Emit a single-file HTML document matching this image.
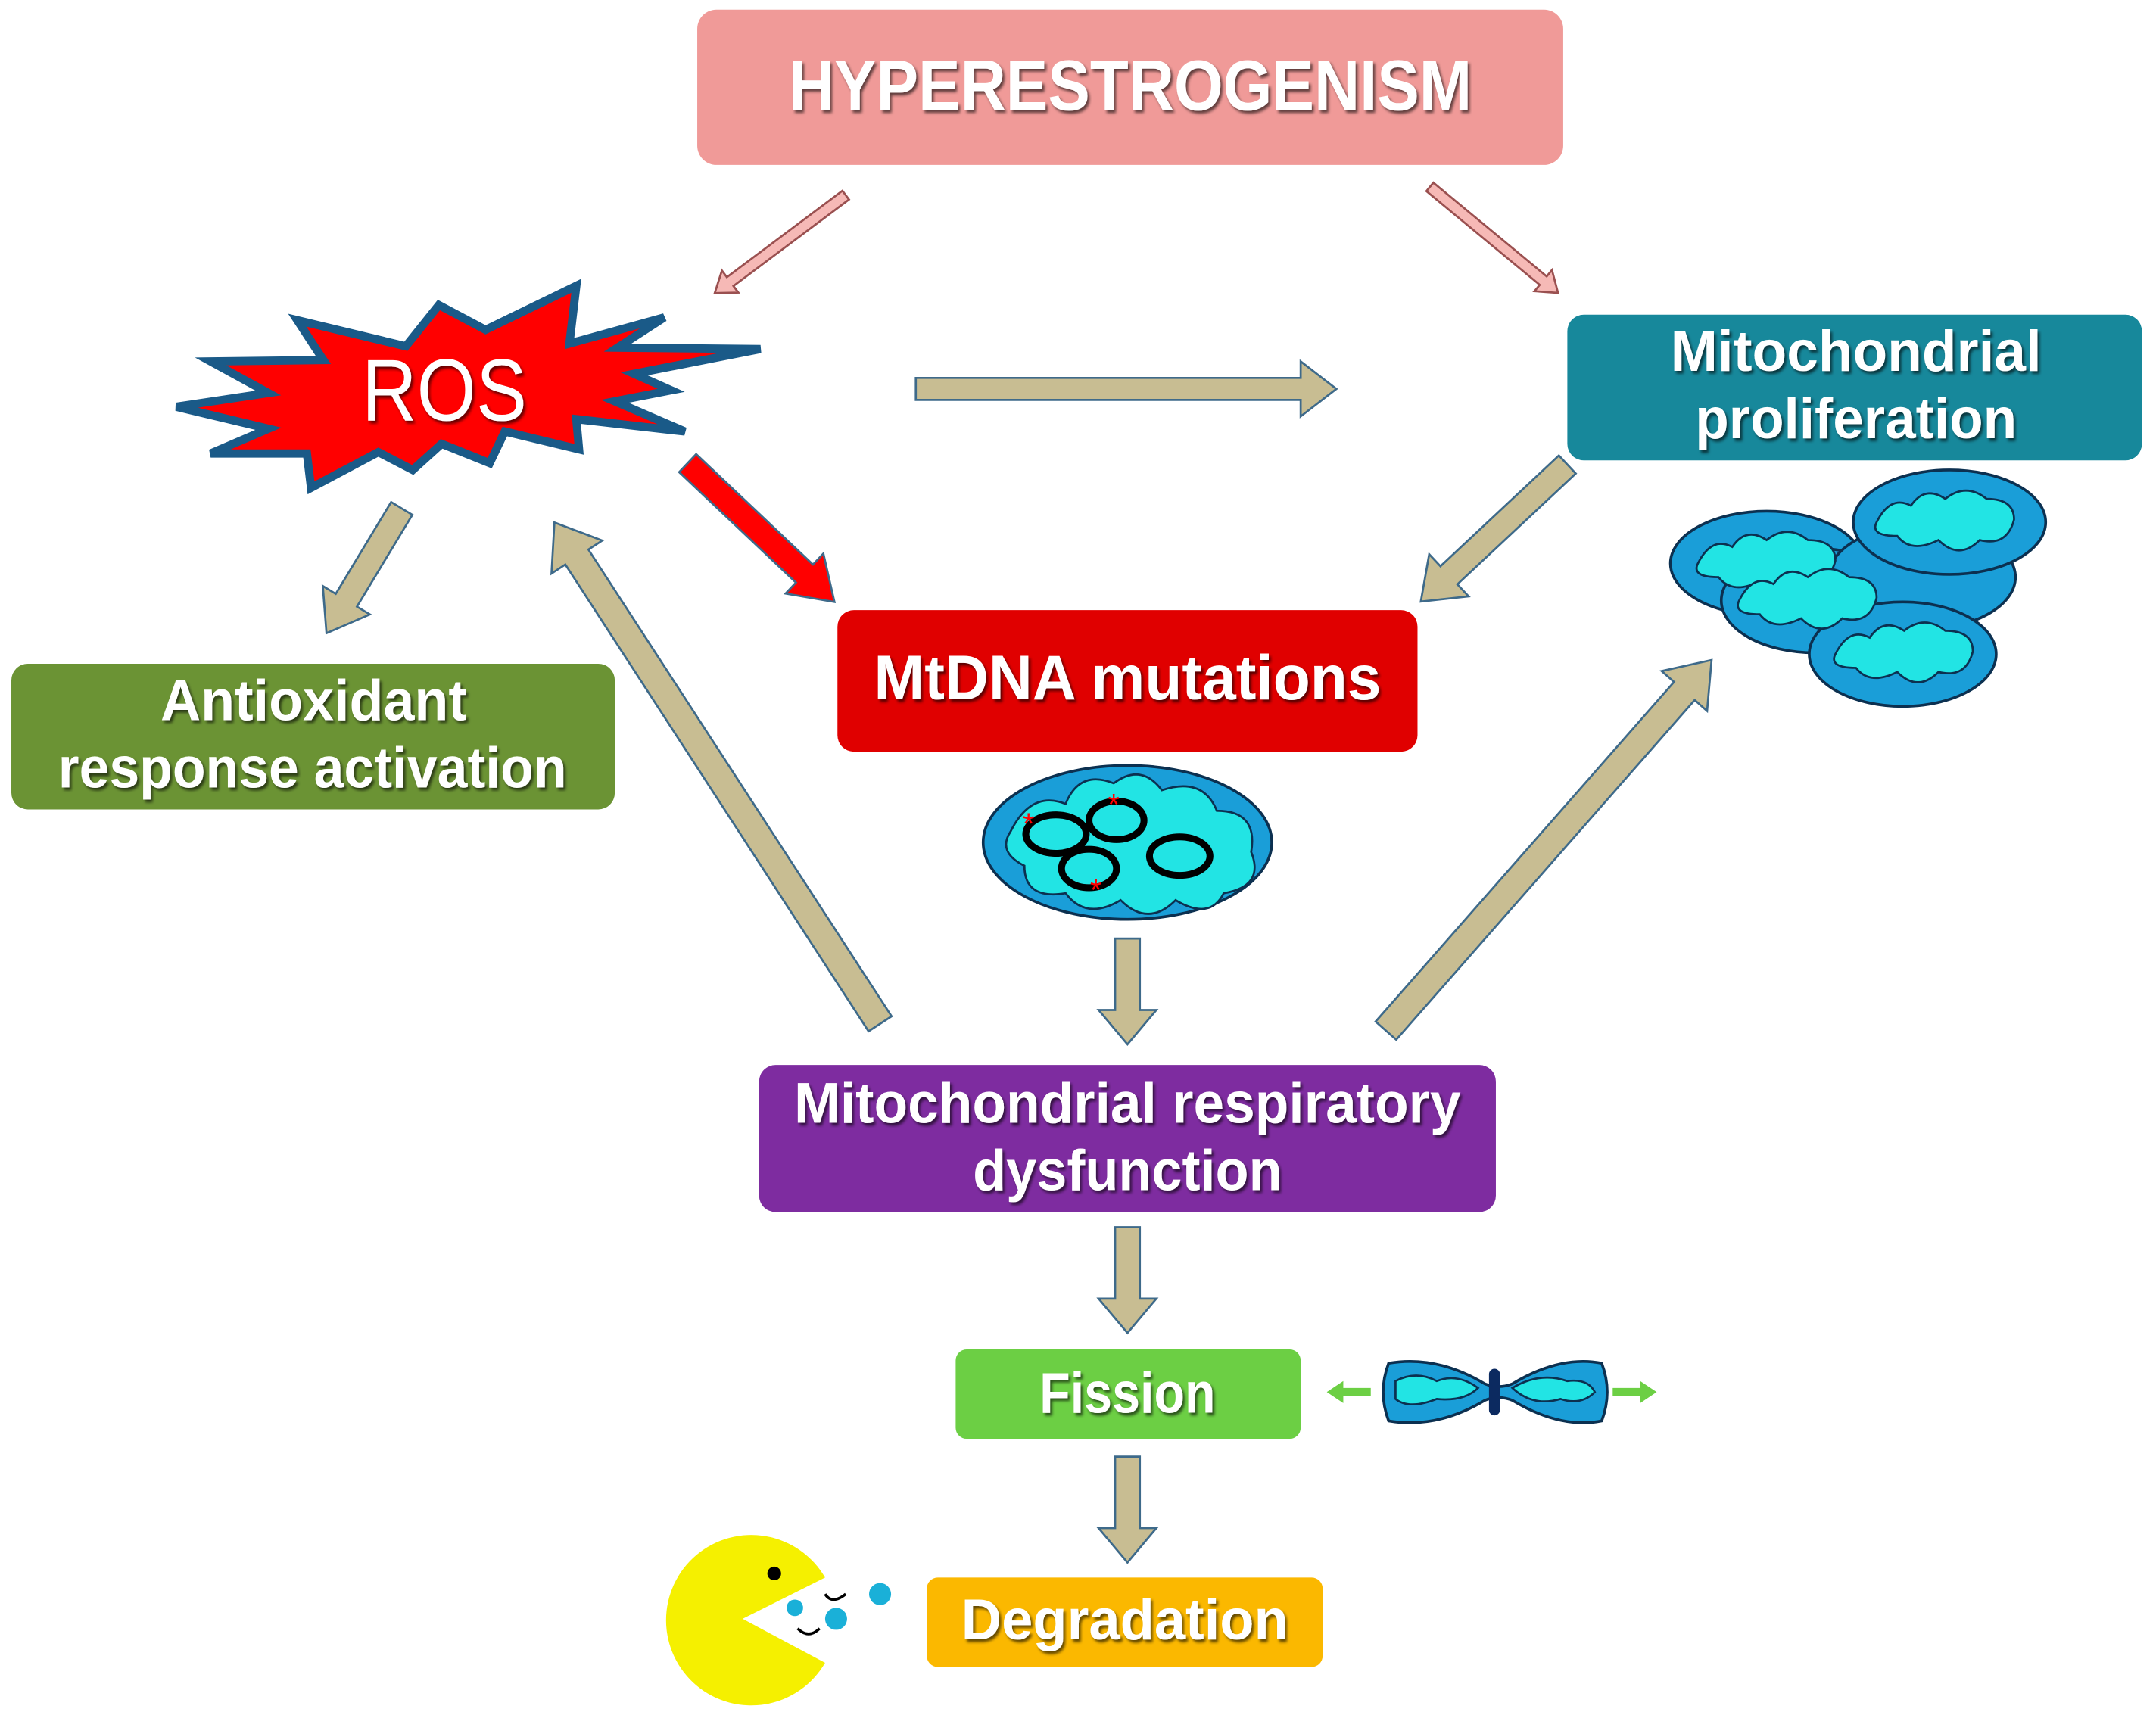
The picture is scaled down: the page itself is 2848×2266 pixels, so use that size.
<!DOCTYPE html>
<html><head><meta charset="utf-8"><style>
html,body{margin:0;padding:0;background:#fff;}
svg{display:block;}
.t{font-family:"Liberation Sans",sans-serif;font-weight:bold;fill:#fff;text-anchor:middle;}
</style></head><body>
<svg width="2848" height="2266" viewBox="0 0 1568 1248" xmlns="http://www.w3.org/2000/svg">
<defs>
<filter id="sh" x="-10%" y="-10%" width="120%" height="130%"><feDropShadow dx="1.5" dy="2" stdDeviation="1" flood-color="#000" flood-opacity="0.6"/></filter>
</defs>
<rect width="1568" height="1248" fill="#fff"/>

<!-- boxes -->
<rect x="507" y="7" width="630" height="113" rx="14" fill="#f09a98"/>
<text class="t" x="822" y="80" font-size="52" textLength="497" lengthAdjust="spacingAndGlyphs" filter="url(#sh)">HYPERESTROGENISM</text>

<rect x="1140" y="229" width="418" height="106" rx="12" fill="#17889b"/>
<text class="t" x="1350" y="270" font-size="42" textLength="270" lengthAdjust="spacingAndGlyphs" filter="url(#sh)">Mitochondrial</text>
<text class="t" x="1350" y="319" font-size="42" textLength="234" lengthAdjust="spacingAndGlyphs" filter="url(#sh)">proliferation</text>

<rect x="8" y="483" width="439" height="106" rx="12" fill="#6b9334"/>
<text class="t" x="228" y="524" font-size="42" textLength="223" lengthAdjust="spacingAndGlyphs" filter="url(#sh)">Antioxidant</text>
<text class="t" x="227" y="573" font-size="42" textLength="370" lengthAdjust="spacingAndGlyphs" filter="url(#sh)">response activation</text>

<rect x="609" y="444" width="422" height="103" rx="12" fill="#e00000"/>
<text class="t" x="820" y="509" font-size="46" textLength="369" lengthAdjust="spacingAndGlyphs" filter="url(#sh)">MtDNA mutations</text>

<rect x="552" y="775" width="536" height="107" rx="12" fill="#7e2ca0"/>
<text class="t" x="820" y="817" font-size="42" textLength="485" lengthAdjust="spacingAndGlyphs" filter="url(#sh)">Mitochondrial respiratory</text>
<text class="t" x="820" y="866" font-size="42" textLength="225" lengthAdjust="spacingAndGlyphs" filter="url(#sh)">dysfunction</text>

<rect x="695" y="982" width="251" height="65" rx="8" fill="#6ccf44"/>
<text class="t" x="820" y="1028" font-size="42" textLength="128" lengthAdjust="spacingAndGlyphs" filter="url(#sh)">Fission</text>

<rect x="674" y="1148" width="288" height="65" rx="8" fill="#fbb800"/>
<text class="t" x="818" y="1193" font-size="42" textLength="238" lengthAdjust="spacingAndGlyphs" filter="url(#sh)">Degradation</text>

<!-- ROS star -->
<polygon points="128,296 195,286 153,263 235,262 216,233 295,252 319,222 353,240 419,208 414,250 483,231 449,253 553,254 461,272 488,284 447,292 498,314 419,305 421,327 367,314 356,337 321,323 300,342 275,329 226,355 223,330 153,330 195,312" fill="#ff0000" stroke="#1a5a88" stroke-width="6" stroke-linejoin="miter"/>
<text x="323" y="306" font-family="Liberation Sans,sans-serif" font-size="64" fill="#fff" text-anchor="middle" textLength="120" lengthAdjust="spacingAndGlyphs" filter="url(#sh)">ROS</text>

<!-- pink arrows -->
<g fill="#f6b9b6" stroke="#9a5050" stroke-width="1.5">
<polygon transform="translate(615,142) rotate(143.2)" points="0,-4 105,-4 105,-10 119,0 105,10 105,4 0,4"/>
<polygon transform="translate(1040,136) rotate(39.6)" points="0,-4 107,-4 107,-10 121,0 107,10 107,4 0,4"/>
</g>

<!-- tan arrows -->
<g fill="#c8bd92" stroke="#3e6a8a" stroke-width="1.5">
<polygon transform="translate(666,283) rotate(0)" points="0,-8 280,-8 280,-20 306,0 280,20 280,8 0,8"/>
<polygon transform="translate(292,370) rotate(121.1)" points="0,-9 78,-9 78,-20 106,0 78,20 78,9 0,9"/>
<polygon transform="translate(1140,338) rotate(136.9)" points="0,-9 118,-9 118,-21 146,0 118,21 118,9 0,9"/>
<polygon transform="translate(640,745) rotate(-123)" points="0,-10 405,-10 405,-22 435,0 405,22 405,10 0,10"/>
<polygon transform="translate(1008,750) rotate(-48.7)" points="0,-10 329,-10 329,-22 359,0 329,22 329,10 0,10"/>
<polygon transform="translate(820,683) rotate(90)" points="0,-9 52,-9 52,-21 77,0 52,21 52,9 0,9"/>
<polygon transform="translate(820,893) rotate(90)" points="0,-9 52,-9 52,-21 77,0 52,21 52,9 0,9"/>
<polygon transform="translate(820,1060) rotate(90)" points="0,-9 52,-9 52,-21 77,0 52,21 52,9 0,9"/>
</g>
<!-- red arrow -->
<polygon transform="translate(500,337) rotate(43.4)" fill="#ff0000" stroke="#3e6a8a" stroke-width="1.5" points="0,-9 117,-9 117,-20 147,0 117,20 117,9 0,9"/>

<!-- green arrows -->
<g fill="#6ccf44">
<polygon transform="translate(997,1013) rotate(180)" points="0,-3 20,-3 20,-8 32,0 20,8 20,3 0,3"/>
<polygon transform="translate(1173,1013)" points="0,-3 20,-3 20,-8 32,0 20,8 20,3 0,3"/>
</g>

<!-- MtDNA mito -->
<ellipse cx="820" cy="613" rx="105" ry="56" fill="#1a9ed8" stroke="#0c3050" stroke-width="2"/>
<path d="M735,605 q15,-30 40,-20 q10,-25 35,-15 q20,-15 35,5 q30,-10 40,15 q30,0 25,30 q10,25 -20,30 q-10,20 -35,5 q-20,20 -40,0 q-25,15 -40,-5 q-30,5 -30,-20 q-20,-10 -10,-25z" fill="#22e4e4" stroke="#0c3050" stroke-width="1.5"/>
<g fill="none" stroke="#000" stroke-width="5">
<ellipse cx="768" cy="607" rx="22" ry="14"/>
<ellipse cx="812" cy="597" rx="20" ry="14"/>
<ellipse cx="792" cy="632" rx="20" ry="14"/>
<ellipse cx="858" cy="623" rx="22" ry="14"/>
</g>
<g fill="#ff0000" font-size="22" font-family="Liberation Sans,sans-serif" text-anchor="middle"><text x="748" y="607">*</text><text x="810" y="593">*</text><text x="797" y="655">*</text></g>

<!-- proliferation cluster -->
<g stroke="#0c3050" stroke-width="2">
<ellipse cx="1285" cy="410" rx="70" ry="38" fill="#1a9ed8"/>
<ellipse cx="1320" cy="437" rx="68" ry="38" fill="#1a9ed8"/>
<ellipse cx="1398" cy="420" rx="68" ry="38" fill="#1a9ed8"/>
<ellipse cx="1418" cy="380" rx="70" ry="38" fill="#1a9ed8"/>
<ellipse cx="1384" cy="476" rx="68" ry="38" fill="#1a9ed8"/>
</g>
<g fill="#22e4e4" stroke="#0c3050" stroke-width="1.5">
<path d="M1235,410 q10,-20 25,-12 q10,-15 25,-5 q15,-12 30,0 q20,0 20,15 q-5,20 -25,15 q-15,15 -30,0 q-20,10 -30,-3 q-20,0 -15,-10z"/>
<path d="M1265,437 q10,-20 25,-12 q10,-15 25,-5 q15,-12 30,0 q20,0 20,15 q-5,20 -25,15 q-15,15 -30,0 q-20,10 -30,-3 q-20,0 -15,-10z"/>
<path d="M1365,380 q10,-20 25,-12 q10,-15 25,-5 q15,-12 30,0 q20,0 20,15 q-5,20 -25,15 q-15,15 -30,0 q-20,10 -30,-3 q-20,0 -15,-10z"/>
<path d="M1335,476 q10,-20 25,-12 q10,-15 25,-5 q15,-12 30,0 q20,0 20,15 q-5,20 -25,15 q-15,15 -30,0 q-20,10 -30,-3 q-20,0 -15,-10z"/>
</g>

<!-- fission mito -->
<path d="M1010,992 q35,-6 70,15 q10,4 20,0 q35,-21 65,-15 q8,21 0,42 q-30,6 -65,-15 q-10,-4 -20,0 q-35,21 -70,15 q-8,-21 0,-42z" fill="#1a9ed8" stroke="#0c3050" stroke-width="2"/>
<path d="M1015,1005 q15,-8 30,0 q15,-6 30,5 q-10,10 -30,8 q-20,8 -30,0z M1100,1010 q20,-12 40,-5 q15,-2 20,8 q-10,10 -25,5 q-20,6 -35,-8z" fill="#22e4e4" stroke="#0c3050" stroke-width="1.5"/>
<rect x="1083" y="996" width="8" height="34" rx="4" fill="#0c2a60"/>

<!-- pacman -->
<path d="M540,1178 L600,1148 A62,62 0 1 0 600,1210 Z" fill="#f5f000"/>
<circle cx="563" cy="1145" r="5" fill="#000"/>
<g fill="#1ab0d8"><circle cx="578" cy="1170" r="6"/><circle cx="608" cy="1178" r="8"/><circle cx="640" cy="1160" r="8"/></g>
<path d="M600,1160 q5,8 15,0 M580,1185 q8,8 16,0" fill="none" stroke="#000" stroke-width="2"/>
</svg>
</body></html>
